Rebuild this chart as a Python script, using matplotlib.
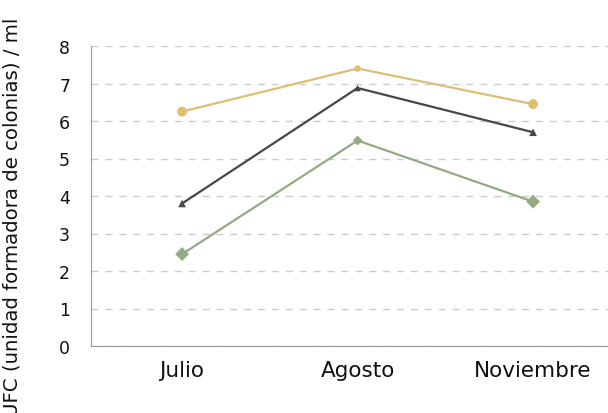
import numpy as np
import matplotlib.pyplot as plt

plt.rcParams['font.family'] = ['DejaVu Sans']

meses = ['Julio', 'Agosto', 'Noviembre']
serie_amarilla = [6.25, 7.4, 6.45]
serie_gris = [3.8, 6.88, 5.7]
serie_verde = [2.45, 5.48, 3.85]

fig = plt.figure(figsize=(6.08, 4.14), dpi=100)
ax = fig.add_axes([91 / 608, 1 - 347 / 414, 1 - 91 / 608, 300 / 414])

x = np.arange(len(meses))

# lineas
ax.plot(x, serie_amarilla, color='#DDBF73', lw=1.6, zorder=3)
ax.plot(x, serie_gris, color='#474747', lw=1.6, zorder=3)
ax.plot(x, serie_verde, color='#94AA82', lw=1.6, zorder=3)

# marcadores (mas pequenos en el centro)
ax.scatter(x, serie_amarilla, s=[50, 22, 50], marker='o', color='#DDBF73', zorder=4, linewidths=0)
ax.scatter(x, serie_gris, s=[30, 22, 30], marker='^', color='#474747', zorder=4, linewidths=0)
ax.scatter(x, serie_verde, s=[50, 25, 50], marker='D', color='#94AA82', zorder=4, linewidths=0)

ax.set_xlim(-0.519, 2.427)
ax.set_ylim(0, 8)
ax.set_yticks(range(0, 9))
ax.set_xticks(x)
ax.set_xticklabels(meses, fontsize=15.5)
ax.tick_params(axis='y', length=0, labelsize=12.5, pad=15, colors='#111111')
ax.tick_params(axis='x', length=0, pad=10, colors='#111111')

ax.yaxis.grid(True, linestyle=(0, (5, 5)), color='#CCCCCC', lw=1)
ax.set_axisbelow(True)
for s in ['top', 'right']:
    ax.spines[s].set_visible(False)
ax.spines['left'].set_color('#999999')
ax.spines['bottom'].set_color('#999999')

fig.text(12 / 608, 1 - 217 / 414, 'UFC (unidad formadora de colonias) / ml',
         rotation=90, va='center', ha='center', fontsize=14.2, color='#111111')

plt.savefig('out.png', dpi=100)
